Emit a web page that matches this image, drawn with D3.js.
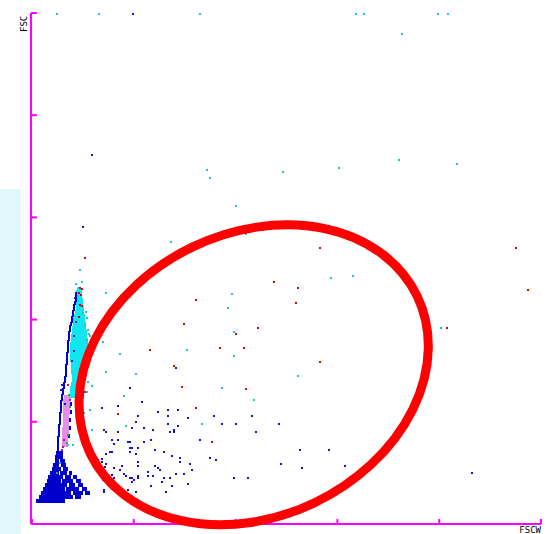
<!DOCTYPE html>
<html>
<head>
<meta charset="utf-8">
<script src="https://cdn.jsdelivr.net/npm/d3@7"></script>
<style>
body { margin: 0; background: #fff; }
</style>
</head>
<body>
<script>
// channel ticks (0..1024 in five steps), no labels drawn
var xTicks = [0, 204.8, 409.6, 614.4, 819.2, 1024];
var yTicks = [0, 204.8, 409.6, 614.4, 819.2, 1024];

// events as [FSCW, FSC]
var bluePoints = [
  [204,1022],[121,740],[103,596],[289,312],[886,102],
  [198,272],[222,244],[174,236],[141,232],[214,216],[210,204],[202,192],[226,192],[145,188],[149,184],
  [174,184],[161,168],[174,168],[165,160],[194,164],[198,164],[226,164],[198,152],[202,152],[214,152],
  [149,140],[157,144],[161,144],[198,144],[210,140],[133,128],[141,124],[149,120],[165,112],[177,108],
  [214,124],[214,116],[182,116],[234,104],[234,96],[214,96],[214,92],[198,92],[202,92],[206,88],
  [202,84],[186,100],[190,96],[194,68],[186,60],[145,68],[145,64],[157,92],[161,88],[165,92],[210,64],
  [141,130],[147,114],[137,108],[161,98],[143,88],[153,78],[174,72],
  [253,224],[273,228],[293,228],[273,216],[313,212],[366,216],[443,216],[273,200],[293,196],[382,200],
  [410,200],[496,200],[244,188],[277,184],[285,188],[285,184],[451,184],[240,168],[338,168],[248,148],
  [265,144],[540,148],[597,148],[281,136],[297,132],[358,132],[370,128],[297,124],[317,120],[500,120],
  [248,116],[253,112],[257,108],[321,108],[544,112],[629,116],[244,96],[265,92],[277,92],[289,100],
  [305,100],[406,92],[435,92],[261,84],[240,76],[281,76],[313,80],[269,64],
  [60,278],[58,268],[84,346],[80,326],[86,452],[88,404],[84,376],[66,240]
];
var cyanPoints = [
  [50,1022],[135,1022],[338,1022],[652,1022],[668,1022],[817,1022],[837,1022],[744,982],
  [352,709],[358,693],[504,705],[617,713],[738,729],[856,721],[411,637],[431,581],[439,585],[279,565],
  [601,493],[645,497],[402,461],[394,433],[406,385],[311,349],[406,337],[536,297],[823,393],
  [97,509],[89,481],[101,484],[149,462],[143,364],[178,340],[149,304],[210,300],
  [103,422],[111,412],[107,398],[113,388],[109,424],[115,380],[111,368],[117,376],
  [109,302],[113,284],[121,276],[103,264],[111,264],[186,256],[101,238],[117,228],[105,222],[190,196],
  [121,188],[103,184],[72,158],[83,158],[56,122],[382,272],[447,248],[342,200]
];
var redPoints = [
  [580,553],[973,553],[487,485],[536,473],[532,443],[329,449],[305,401],[455,393],[410,381],[378,353],
  [427,353],[238,349],[285,317],[580,325],[835,393],[997,469],[301,275],[431,271],[329,232],[362,164],
  [174,220],[107,533],
  [97,472],[101,470],[95,462],[99,458],[97,438],[101,436],[95,414]
];
var purplePoints = [[72,278],[107,264],[76,248],[62,154],[60,148],[64,168]];
var greenPoints = [[74,258],[76,234],[72,178],[70,162],[50,102]];

// dense populations, binned rows as [FSC top, FSCW from, FSCW to]
var cyanRuns = [
  [474,91,97],[468,89,99],[460,91,99],[452,91,101],[444,89,101],[436,89,103],[428,87,103],[420,85,105],
  [412,83,105],[404,83,107],[396,81,107],[388,81,109],[380,79,109],[372,79,111],[364,77,111],[356,77,109],
  [348,77,107],[340,77,105],[332,77,103],[324,79,101],[316,79,99],[308,79,97],[300,81,95],[292,81,93],
  [284,79,91],[276,77,89],[268,77,87],[260,75,85]
];
var violetRuns = [
  [258,64,76],[250,62,74],[242,62,74],[234,62,74],[226,62,74],[218,62,72],[210,62,72],[202,62,72],
  [194,60,72],[186,60,72],[178,60,70],[170,60,70],[162,60,70]
];
var blueRuns = [
  [464,87,89],[458,86,88],[452,86,89],[446,85,87],[440,83,86],[434,82,84],[428,81,84],[422,80,82],
  [416,79,82],[410,78,80],[404,76,79],[398,75,77],[392,74,77],[386,73,75],[380,72,75],[374,72,74],
  [368,71,74],[362,71,73],[356,70,73],[350,70,72],[344,69,72],[338,69,71],[332,68,71],[326,68,70],
  [320,67,70],[314,67,69],[308,66,69],[302,66,68],[296,65,68],[290,64,66],[284,63,66],[278,62,64],
  [272,61,64],[266,60,62],[260,59,62],[254,58,60],[248,57,60],[242,57,59],[236,56,59],[230,56,58],
  [224,55,58],[218,55,57],[212,54,57],[206,54,56],[200,53,56],[194,53,55],[188,52,55],[182,52,54],
  [176,51,54],[170,51,53],[164,50,53],[158,50,52],[152,50,53],
  [244,76,78],[228,76,78],[212,75,77],[196,74,76],[180,73,75],
  [146,48,60],[138,46,60],[130,46,52],[130,56,64],[122,42,52],[122,58,66],[114,40,56],[114,62,70],
  [106,36,52],[106,56,68],[106,74,78],[98,32,60],[98,66,76],[98,83,89],[90,30,56],[90,60,80],[90,89,97],
  [82,26,68],[82,74,84],[82,93,101],[74,22,64],[74,68,92],[74,101,109],[66,18,76],[66,82,101],[66,107,115],
  [58,14,80],[58,87,97],[50,8,64]
];

// elliptical gate, in channel units
var gate = { cx: 446, cy: 299, rx: 365, ry: 284, angle: -25.7 };

var x = d3.scaleLinear().domain([0, 1024]).range([32, 541]);
var y = d3.scaleLinear().domain([0, 1024]).range([524, 13]);

var svg = d3.select("body")
  .append("svg")
  .attr("width", 549)
  .attr("height", 534)
  .style("display", "block");

svg.append('rect')
  .attr('x', 0).attr('y', 189)
  .attr('width', 21).attr('height', 345)
  .attr('fill', '#e0f7fb');

var plot = svg.append('g').attr('shape-rendering', 'crispEdges');

function runs(data, color) {
  plot.append('g').selectAll('rect')
    .data(data)
    .enter()
    .append('rect')
    .attr('x', function (d) { return Math.round(x(d[1])); })
    .attr('y', function (d) { return Math.round(y(d[0])); })
    .attr('width', function (d) { return Math.max(1, Math.round(x(d[2]) - x(d[1]))) + 1; })
    .attr('height', function (d) { return Math.round(y(d[0] - 8) - y(d[0])); })
    .attr('fill', color);
}

function dots(data, color) {
  plot.append('g').selectAll('rect')
    .data(data)
    .enter()
    .append('rect')
    .attr('x', function (d) { return Math.round(x(d[0])) - 1; })
    .attr('y', function (d) { return Math.round(y(d[1])) - 1; })
    .attr('width', 2)
    .attr('height', 2)
    .attr('fill', color);
}

runs(violetRuns, '#e58ee8');
runs(cyanRuns, '#10e6ee');
runs(blueRuns, '#0000cc');
dots(bluePoints, '#1414d2');
dots(cyanPoints, '#18c8d0');
dots(redPoints, '#cc0a0a');
dots(purplePoints, '#a010c0');
dots(greenPoints, '#10c010');

// axes
var xAxis = d3.axisBottom(x).tickValues(xTicks).tickSize(-5).tickSizeOuter(0).tickFormat('').offset(0);
var yAxis = d3.axisLeft(y).tickValues(yTicks).tickSize(-6).tickSizeOuter(0).tickFormat('').offset(0);

svg.append('g').attr('transform', 'translate(0,524)').call(xAxis);
svg.append('g').attr('transform', 'translate(31,0)').call(yAxis);
svg.selectAll('.domain, .tick line')
  .attr('stroke', '#ff00ff')
  .attr('stroke-width', 2);

svg.append('text')
  .attr('x', 541).attr('y', 533)
  .attr('text-anchor', 'end')
  .attr('font-family', 'DejaVu Sans Mono')
  .attr('font-size', 9)
  .attr('fill', '#000')
  .text('FSCW');

svg.append('text')
  .attr('transform', 'translate(27,32) rotate(-90)')
  .attr('font-family', 'DejaVu Sans Mono')
  .attr('font-size', 9)
  .attr('fill', '#000')
  .text('FSC');

// gate
svg.append('ellipse')
  .attr('transform', 'translate(' + x(gate.cx) + ',' + y(gate.cy) + ') rotate(' + gate.angle + ')')
  .attr('rx', x(gate.rx) - x(0))
  .attr('ry', y(0) - y(gate.ry))
  .attr('fill', 'none')
  .attr('stroke', '#ff0000')
  .attr('stroke-width', 9);
</script>
</body>
</html>
